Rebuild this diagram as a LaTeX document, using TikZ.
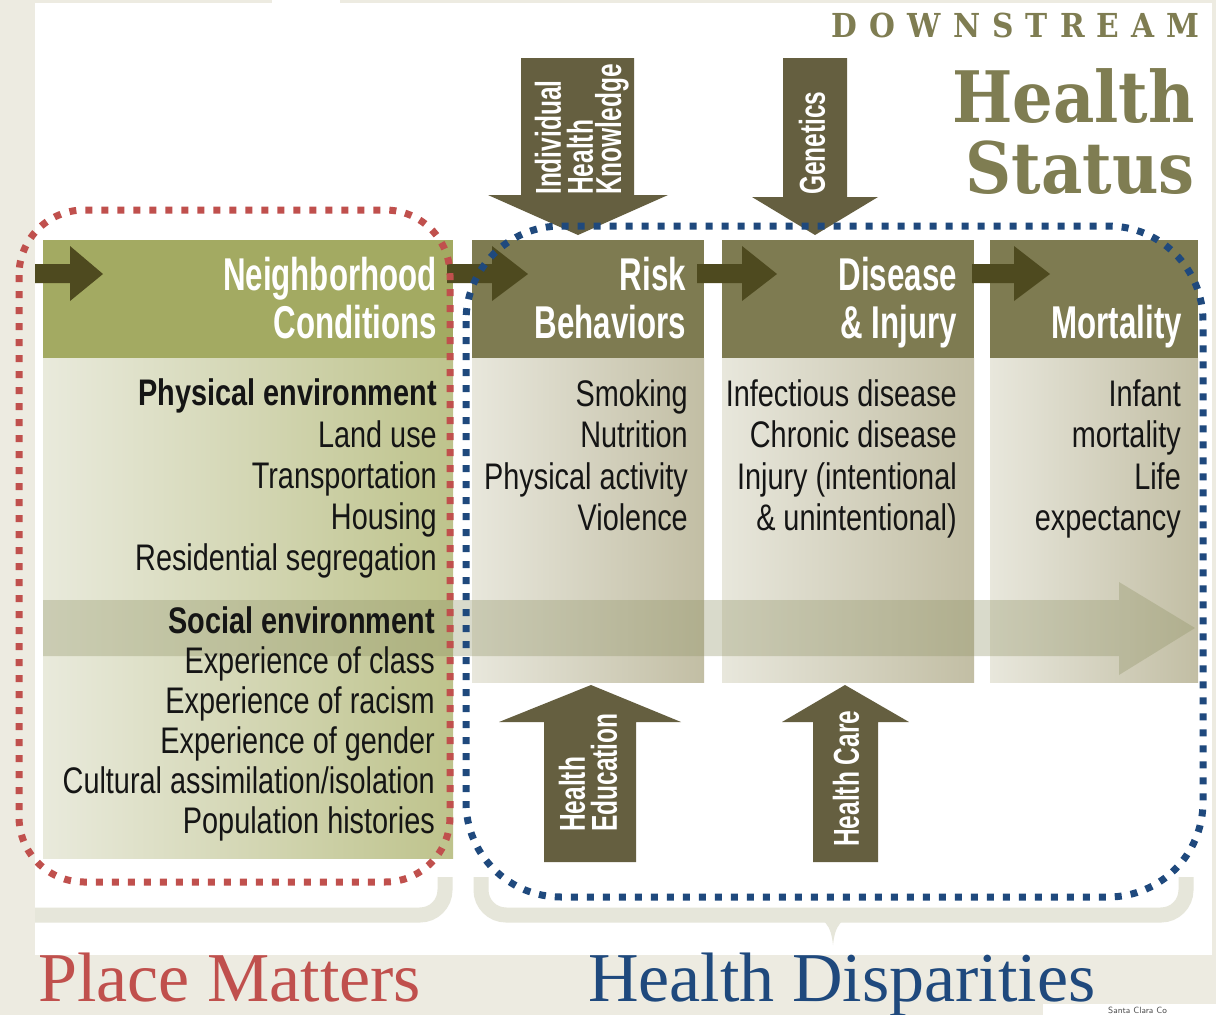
\documentclass[tikz,border=0pt]{standalone}
\usepackage{fontspec}
\setmainfont{Liberation Serif}
\newfontfamily\cond[FakeStretch=0.68]{Liberation Sans}
\newfontfamily\bodyf[FakeStretch=0.78]{Liberation Sans}
\newfontfamily\slab[FakeStretch=0.9]{DejaVu Serif}
\definecolor{beige}{HTML}{EDEBE1}
\definecolor{hdrgreen}{HTML}{A3AA62}
\definecolor{hdrolive}{HTML}{7E7B51}
\definecolor{arrdark}{HTML}{4E4A1F}
\definecolor{arrolive}{HTML}{655F40}
\definecolor{bodyLa}{HTML}{E9EADC}
\definecolor{bodyLb}{HTML}{BEC38C}
\definecolor{bodyMa}{HTML}{E8E7DC}
\definecolor{bodyMb}{HTML}{C2BEA4}
\definecolor{bandc}{HTML}{8D9062}
\definecolor{titlec}{HTML}{7F7D52}
\definecolor{redd}{HTML}{C0504D}
\definecolor{blued}{HTML}{1F497D}
\definecolor{bracec}{HTML}{E6E6DA}
\definecolor{txt}{HTML}{151515}
\tikzset{
  hdr/.style={font=\cond\bfseries\fontsize{46}{48}\selectfont, text=white, inner sep=0pt, anchor=base east},
  item/.style={font=\bodyf\fontsize{37}{40}\selectfont, text=txt, inner sep=0pt, anchor=base east},
  itemb/.style={item, font=\bodyf\bfseries\fontsize{37}{40}\selectfont},
  vlab/.style={font=\cond\bfseries\fontsize{36}{36}\selectfont, text=white, inner sep=0pt, rotate=90, anchor=west},
  dotline/.style={line width=7pt, dash pattern=on 7pt off 9pt},
  bracestroke/.style={draw=bracec, line width=15pt, rounded corners=25pt},
}
\begin{document}
\begin{tikzpicture}[x=1pt, y=-1pt]
\useasboundingbox (0,0) rectangle (1216,1015);
% background
\fill[beige] (0,0) rectangle (1216,1015);
\fill[white] (35,3) rectangle (1212,955);
\fill[white] (272,0) rectangle (340,3);
% braces
\draw[bracestroke] (35,915) -- (445,915) -- (445,877);
\draw[bracestroke] (481,877) -- (481,915) -- (1186,915) -- (1186,877);
\fill[bracec] (800,912) .. controls (826,916) and (831,926) .. (833,945) .. controls (835,926) and (840,916) .. (866,912) -- cycle;
% downward arrows
\fill[arrolive] (521,58) -- (634,58) -- (634,195) -- (668,195) -- (578,235) -- (488,195) -- (521,195) -- cycle;
\fill[arrolive] (783,58) -- (847,58) -- (847,197) -- (878,197) -- (815,235) -- (752,197) -- (783,197) -- cycle;
% column bodies
\shade[left color=bodyLa, right color=bodyLb] (43,358) rectangle (453,858);
\shade[left color=bodyMa, right color=bodyMb] (472,358) rectangle (704,682);
\shade[left color=bodyMa, right color=bodyMb] (722,358) rectangle (974,682);
\shade[left color=bodyMa, right color=bodyMb] (990,358) rectangle (1198,682);
% headers
\fill[hdrgreen] (43,240) rectangle (453,358);
\fill[hdrolive] (472,240) rectangle (704,358);
\fill[hdrolive] (722,240) rectangle (974,358);
\fill[hdrolive] (990,240) rectangle (1198,358);
% upward arrows
\fill[arrolive] (544,862) -- (636,862) -- (636,722) -- (681,722) -- (591,685) -- (499,722) -- (544,722) -- cycle;
\fill[arrolive] (813,862) -- (878,862) -- (878,722) -- (909,722) -- (845,685) -- (782,722) -- (813,722) -- cycle;
% horizontal arrows
\fill[arrdark] (35,264) -- (70,264) -- (70,246) -- (103,274) -- (70,301) -- (70,283) -- (35,283) -- cycle;
\fill[arrdark] (447,264) -- (492,264) -- (492,246) -- (528,274) -- (492,301) -- (492,283) -- (447,283) -- cycle;
\fill[arrdark] (697,264) -- (742,264) -- (742,246) -- (777,274) -- (742,301) -- (742,283) -- (697,283) -- cycle;
\fill[arrdark] (972,264) -- (1014,264) -- (1014,246) -- (1050,274) -- (1014,301) -- (1014,283) -- (972,283) -- cycle;
% social environment band
\fill[bandc, opacity=0.33] (43,600) -- (1119,600) -- (1119,582) -- (1195,628) -- (1119,675) -- (1119,656) -- (43,656) -- cycle;
% header texts
\node[hdr] (nh1) at (437,290) {Neighborhood};
\node[hdr] (nh2) at (437,338) {Conditions};
\node[hdr] (rb1) at (686,290) {Risk};
\node[hdr] (rb2) at (686,338) {Behaviors};
\node[hdr] (di1) at (957,290) {Disease};
\node[hdr] (di2) at (957,338) {\& Injury};
\node[hdr] (mo1) at (1182,338) {Mortality};
% vertical labels
\node[vlab] (ihk1) at (548,195) {Individual};
\node[vlab] (ihk2) at (580,195) {Health};
\node[vlab] (ihk3) at (612,195) {Knowledge};
\node[vlab] (gen) at (812,195) {Genetics};
\node[vlab] (he1) at (572,832) {Health};
\node[vlab] (he2) at (604,832) {Education};
\node[vlab] (hc) at (846,847) {Health Care};
% left column items
\node[itemb] (l1) at (437,405) {Physical environment};
\node[item] (l2) at (437,447) {Land use};
\node[item] (l3) at (437,488) {Transportation};
\node[item] (l4) at (437,529) {Housing};
\node[item] (l5) at (437,570) {Residential segregation};
\node[itemb] (l6) at (435,633) {Social environment};
\node[item] (l7) at (435,673) {Experience of class};
\node[item] (l8) at (435,713) {Experience of racism};
\node[item] (l9) at (435,753) {Experience of gender};
\node[item] (l10) at (435,793) {Cultural assimilation/isolation};
\node[item] (l11) at (435,833) {Population histories};
% risk items
\node[item] (r1) at (688,406) {Smoking};
\node[item] (r2) at (688,447) {Nutrition};
\node[item] (r3) at (688,489) {Physical activity};
\node[item] (r4) at (688,530) {Violence};
% disease items
\node[item] (d1) at (957,406) {Infectious disease};
\node[item] (d2) at (957,447) {Chronic disease};
\node[item] (d3) at (957,489) {Injury (intentional};
\node[item] (d4) at (957,530) {\& unintentional)};
% mortality items
\node[item] (m1) at (1181,406) {Infant};
\node[item] (m2) at (1181,447) {mortality};
\node[item] (m3) at (1181,489) {Life};
\node[item] (m4) at (1181,530) {expectancy};
% dotted outlines
\draw[dotline, redd, rounded corners=65pt] (19,210) rectangle (450,882);
\draw[dotline, blued, rounded corners=95pt] (466,226) rectangle (1203,897);
% title
\node[font=\slab\bfseries\fontsize{33}{33}\selectfont, text=titlec, inner sep=0pt, anchor=base east] (down) at (1200,37)
  {\makebox[368pt][s]{D\hfill O\hfill W\hfill N\hfill S\hfill T\hfill R\hfill E\hfill A\hfill M}};
\node[font=\slab\bfseries\fontsize{71}{71}\selectfont, text=titlec, inner sep=0pt, anchor=base east] (hs1) at (1195,122) {Health};
\node[font=\slab\bfseries\fontsize{71}{71}\selectfont, text=titlec, inner sep=0pt, anchor=base east] (hs2) at (1195,193) {Status};
% bottom labels
\node[font=\fontsize{70}{70}\selectfont, text=redd, inner sep=0pt, anchor=base west] (pm) at (38,1001) {Place Matters};
\node[font=\fontsize{70}{70}\selectfont, text=blued, inner sep=0pt, anchor=base west] (hd) at (588,1001) {Health Disparities};
% source strip
\fill[white] (1043,1004) rectangle (1216,1015);
\node[font=\sffamily\fontsize{9}{9}\selectfont, text=black!70, inner sep=0pt, anchor=base west] (src) at (1108,1013) {Santa Clara Co};
\end{tikzpicture}
\end{document}
